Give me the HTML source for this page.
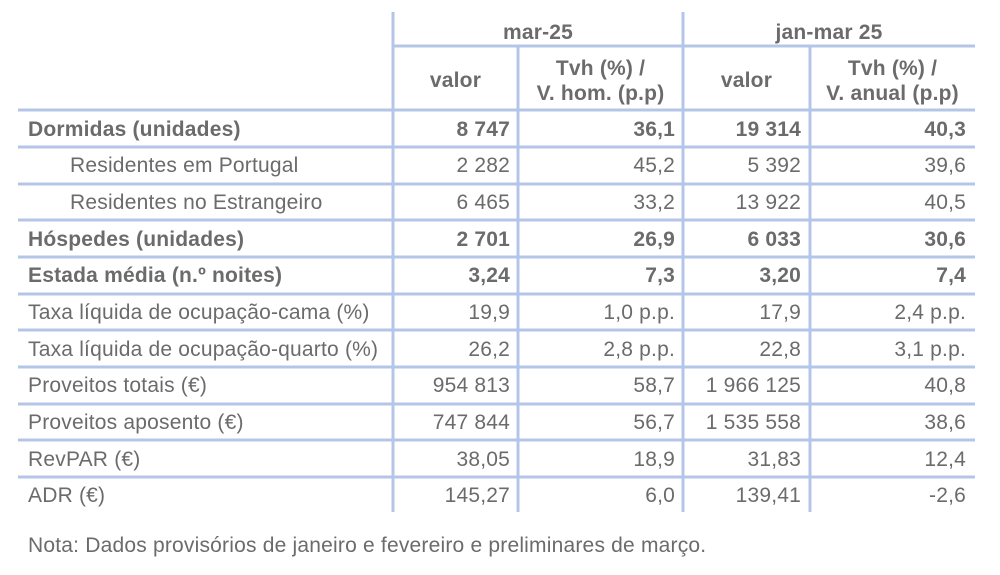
<!DOCTYPE html>
<html><head><meta charset="utf-8"><style>
body{margin:0;width:1000px;height:575px;background:#fff;position:relative;overflow:hidden;font-family:"Liberation Sans",sans-serif;color:#6b6b6b;font-size:21px;letter-spacing:0.2px}
.t{position:absolute;white-space:nowrap;line-height:22px}
.b{font-weight:bold}
.r{text-align:right}
.c{text-align:center}
svg{position:absolute;left:0;top:0}
</style></head><body>
<svg width="1000" height="575">
<g stroke="#b4c6e7" stroke-width="3">
<line x1="393" y1="12" x2="393" y2="512"/>
<line x1="683" y1="12" x2="683" y2="512"/>
<line x1="518" y1="46" x2="518" y2="512"/>
<line x1="810" y1="46" x2="810" y2="512"/>
<line x1="393" y1="46" x2="975" y2="46"/>
<line x1="18" y1="110" x2="975" y2="110"/>
<line x1="18" y1="147" x2="975" y2="147"/>
<line x1="18" y1="184" x2="975" y2="184"/>
<line x1="18" y1="220" x2="975" y2="220"/>
<line x1="18" y1="257" x2="975" y2="257"/>
<line x1="18" y1="294" x2="975" y2="294"/>
<line x1="18" y1="330" x2="975" y2="330"/>
<line x1="18" y1="367" x2="975" y2="367"/>
<line x1="18" y1="404" x2="975" y2="404"/>
<line x1="18" y1="440" x2="975" y2="440"/>
<line x1="18" y1="477" x2="975" y2="477"/>
</g></svg>
<div class="t b c" style="left:393px;width:290px;top:22px">mar-25</div>
<div class="t b c" style="left:683px;width:292px;top:22px">jan-mar 25</div>
<div class="t b c" style="left:393px;width:125px;top:70px">valor</div>
<div class="t b c" style="left:518px;width:165px;top:56px;line-height:25px">Tvh (%) /<br>V. hom. (p.p)</div>
<div class="t b c" style="left:683px;width:127px;top:70px">valor</div>
<div class="t b c" style="left:810px;width:165px;top:56px;line-height:25px">Tvh (%) /<br>V. anual (p.p)</div>

<div class="t" style="left:28px;top:535px">Nota: Dados provisórios de janeiro e fevereiro e preliminares de março.</div>

<div class="t b" style="left:28px;top:119px">Dormidas (unidades)</div>
<div class="t b r" style="left:393px;width:117px;top:119px">8 747</div>
<div class="t b r" style="left:518px;width:157px;top:119px">36,1</div>
<div class="t b r" style="left:683px;width:118px;top:119px">19 314</div>
<div class="t b r" style="left:810px;width:156px;top:119px">40,3</div>

<div class="t" style="left:70px;top:155px">Residentes em Portugal</div>
<div class="t r" style="left:393px;width:117px;top:155px">2 282</div>
<div class="t r" style="left:518px;width:157px;top:155px">45,2</div>
<div class="t r" style="left:683px;width:118px;top:155px">5 392</div>
<div class="t r" style="left:810px;width:156px;top:155px">39,6</div>

<div class="t" style="left:70px;top:192px">Residentes no Estrangeiro</div>
<div class="t r" style="left:393px;width:117px;top:192px">6 465</div>
<div class="t r" style="left:518px;width:157px;top:192px">33,2</div>
<div class="t r" style="left:683px;width:118px;top:192px">13 922</div>
<div class="t r" style="left:810px;width:156px;top:192px">40,5</div>

<div class="t b" style="left:28px;top:229px">Hóspedes (unidades)</div>
<div class="t b r" style="left:393px;width:117px;top:229px">2 701</div>
<div class="t b r" style="left:518px;width:157px;top:229px">26,9</div>
<div class="t b r" style="left:683px;width:118px;top:229px">6 033</div>
<div class="t b r" style="left:810px;width:156px;top:229px">30,6</div>

<div class="t b" style="left:28px;top:265px">Estada média (n.º noites)</div>
<div class="t b r" style="left:393px;width:117px;top:265px">3,24</div>
<div class="t b r" style="left:518px;width:157px;top:265px">7,3</div>
<div class="t b r" style="left:683px;width:118px;top:265px">3,20</div>
<div class="t b r" style="left:810px;width:156px;top:265px">7,4</div>

<div class="t" style="left:28px;top:302px">Taxa líquida de ocupação-cama (%)</div>
<div class="t r" style="left:393px;width:117px;top:302px">19,9</div>
<div class="t r" style="left:518px;width:157px;top:302px">1,0 p.p.</div>
<div class="t r" style="left:683px;width:118px;top:302px">17,9</div>
<div class="t r" style="left:810px;width:156px;top:302px">2,4 p.p.</div>

<div class="t" style="left:28px;top:339px">Taxa líquida de ocupação-quarto (%)</div>
<div class="t r" style="left:393px;width:117px;top:339px">26,2</div>
<div class="t r" style="left:518px;width:157px;top:339px">2,8 p.p.</div>
<div class="t r" style="left:683px;width:118px;top:339px">22,8</div>
<div class="t r" style="left:810px;width:156px;top:339px">3,1 p.p.</div>

<div class="t" style="left:28px;top:375px">Proveitos totais (€)</div>
<div class="t r" style="left:393px;width:117px;top:375px">954 813</div>
<div class="t r" style="left:518px;width:157px;top:375px">58,7</div>
<div class="t r" style="left:683px;width:118px;top:375px">1 966 125</div>
<div class="t r" style="left:810px;width:156px;top:375px">40,8</div>

<div class="t" style="left:28px;top:412px">Proveitos aposento (€)</div>
<div class="t r" style="left:393px;width:117px;top:412px">747 844</div>
<div class="t r" style="left:518px;width:157px;top:412px">56,7</div>
<div class="t r" style="left:683px;width:118px;top:412px">1 535 558</div>
<div class="t r" style="left:810px;width:156px;top:412px">38,6</div>

<div class="t" style="left:28px;top:449px">RevPAR (€)</div>
<div class="t r" style="left:393px;width:117px;top:449px">38,05</div>
<div class="t r" style="left:518px;width:157px;top:449px">18,9</div>
<div class="t r" style="left:683px;width:118px;top:449px">31,83</div>
<div class="t r" style="left:810px;width:156px;top:449px">12,4</div>

<div class="t" style="left:28px;top:485px">ADR (€)</div>
<div class="t r" style="left:393px;width:117px;top:485px">145,27</div>
<div class="t r" style="left:518px;width:157px;top:485px">6,0</div>
<div class="t r" style="left:683px;width:118px;top:485px">139,41</div>
<div class="t r" style="left:810px;width:156px;top:485px">-2,6</div>
</body></html>
